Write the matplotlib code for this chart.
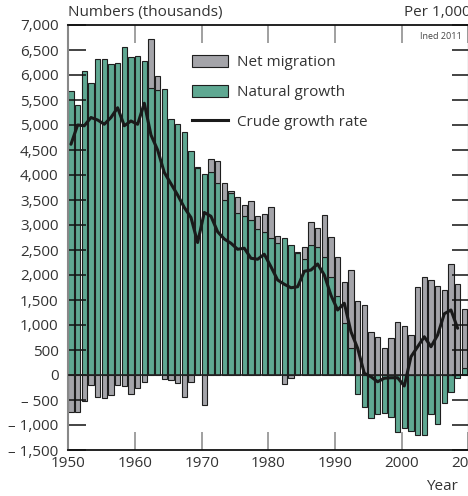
import numpy as np
import matplotlib
matplotlib.use("Agg")
import matplotlib.pyplot as plt
from matplotlib.patches import Patch
from matplotlib.lines import Line2D

plt.rcParams['font.family'] = ['Open Sans', 'DejaVu Sans']

# ---- data (thousands) ----
years = list(range(1950, 2010))
natural_growth = [
    5680, 5393, 6087, 5833, 6313, 6313, 6213, 6233, 6553, 6353,   # 1950-59
    6387, 6287, 5733, 5700, 5720, 5127, 5020, 4860, 4487, 4133,   # 1960-69
    4030, 4060, 3833, 3500, 3640, 3247, 3180, 3100, 2930, 2870,   # 1970-79
    2747, 2647, 2747, 2593, 2447, 2330, 2600, 2553, 2370, 1953,   # 1980-89
    1580, 1047, 547, -370, -647, -867, -780, -767, -833, -1147,   # 1990-99
    -1067, -1113, -1207, -1207, -787, -987, -567, -333, -67, 133, # 2000-09
]
net_migration = [
    -747, -747, -520, -207, -440, -453, -400, -207, -220, -387,
    -267, -147, 980, 287, -80, -107, -167, -433, -147, 20,
    -593, 253, 454, 347, 35, 320, 213, 380, 250, 350,
    606, 140, -187, -67, 10, 237, 467, 394, 825, 814,
    787, 820, 1553, 1480, 1400, 853, 767, 540, 733, 1053,
    987, 800, 1753, 1967, 1900, 1780, 1700, 2213, 1820, 1180,
]
# crude growth rate, per 1,000
rate_years = list(range(1950, 2009))
crude_growth_rate = [
    9.23, 10.0, 9.97, 10.3, 10.2, 10.03, 10.3, 10.69, 9.97, 10.16,
    10.03, 10.87, 9.6, 9.0, 8.1, 7.65, 7.2, 6.7, 6.3, 5.3,
    6.5, 6.35, 5.73, 5.44, 5.27, 5.03, 5.07, 4.67, 4.63, 4.83,
    4.33, 3.8, 3.63, 3.49, 3.53, 4.15, 4.2, 4.44, 4.0, 3.19,
    2.6, 2.87, 1.73, 1.07, 0.07, -0.07, -0.27, -0.13, -0.11, -0.11,
    -0.44, 0.73, 1.13, 1.53, 1.13, 1.6, 2.45, 2.6, 1.87,
]
left_ticks = list(range(-1500, 7001, 500))
right_ticks = list(range(-3, 15))
x_ticks = list(range(1950, 2011, 10))

GREEN = '#5fa892'
GRAY = '#a4a4a9'
EDGE = '#1e1e1e'
TXT = '#333333'

W, H = 468, 496
fig = plt.figure(figsize=(W / 100, H / 100), dpi=100)
ax = fig.add_axes([68.3 / W, 46 / H, 400 / W, 425 / H])

yr = np.array(years, dtype=float)
nat = np.array(natural_growth, dtype=float)
mig = np.array(net_migration, dtype=float)
mig_bottom = np.where(mig >= 0, np.maximum(nat, 0), np.minimum(nat, 0))

ax.bar(yr, nat, width=0.8, align='edge', color=GREEN, edgecolor=EDGE, linewidth=0.8, zorder=1)
ax.bar(yr, mig, bottom=mig_bottom, width=0.8, align='edge', color=GRAY, edgecolor=EDGE, linewidth=0.8, zorder=1)
ax.axhline(0, color='#222222', lw=1.2, zorder=3)

ax.set_xlim(1950, 2010)
ax.set_ylim(-1500, 7000)
ax.set_yticks(left_ticks)
ax.set_yticklabels([f"{v:,}" if v >= 0 else "\u2013 " + f"{abs(v):,}" for v in left_ticks])
ax.set_xticks(x_ticks)
ax.set_xticklabels([str(v) for v in x_ticks])
ax.tick_params(axis='y', direction='in', length=13, width=1.1, color='#111111',
               pad=7, labelsize=11, labelcolor=TXT, left=True, right=False)
ax.tick_params(axis='x', direction='in', length=13, width=1.3, color='#999999',
               pad=4, labelsize=11, labelcolor=TXT, top=True, bottom=True)

for s in ['left']:
    ax.spines[s].set_color('#888888'); ax.spines[s].set_linewidth(1.5)
for s in ['top', 'bottom']:
    ax.spines[s].set_color('#111111'); ax.spines[s].set_linewidth(1.3)
ax.spines['right'].set_visible(False)

ax2 = ax.twinx()
ax2.set_ylim(-3, 14)
ax2.set_yticks(right_ticks)
ax2.tick_params(axis='y', direction='in', length=11.5, width=1.1, color='#111111',
                labelright=False, right=True)
for s in ['left', 'top', 'bottom']:
    ax2.spines[s].set_visible(False)
ax2.spines['right'].set_color('#111111')
ax2.plot(np.array(rate_years) + 0.4, crude_growth_rate, color='#1a1a1a', lw=2.2,
         solid_joinstyle='round', solid_capstyle='round', zorder=4)

handles = [Patch(facecolor=GRAY, edgecolor=EDGE, linewidth=0.8),
           Patch(facecolor=GREEN, edgecolor=EDGE, linewidth=0.8),
           Line2D([0], [0], color='#1a1a1a', lw=2.2)]
labels = ['Net migration', 'Natural growth', 'Crude growth rate']
leg = ax2.legend(handles, labels, loc='upper left', bbox_to_anchor=(0.31, 0.929),
                 frameon=False, fontsize=11, handlelength=2.35, handleheight=0.8,
                 handletextpad=0.6, labelspacing=0.95, borderpad=0, borderaxespad=0)
for t in leg.get_texts():
    t.set_color(TXT)

ax2.text(0.984, 0.972, 'Ined 2011', transform=ax2.transAxes, ha='right', va='center',
         fontsize=6.5, color='#444444')

fig.text(68.3 / W, 1 - 16 / H, 'Numbers (thousands)', ha='left', va='baseline',
         fontsize=11, color=TXT)
fig.text(471 / W, 1 - 16 / H, 'Per 1,000', ha='right', va='baseline',
         fontsize=11, color=TXT)
fig.text(458 / W, 1 - 490 / H, 'Year', ha='right', va='baseline',
         fontsize=11, color=TXT)

fig.savefig('out.png', dpi=100)
